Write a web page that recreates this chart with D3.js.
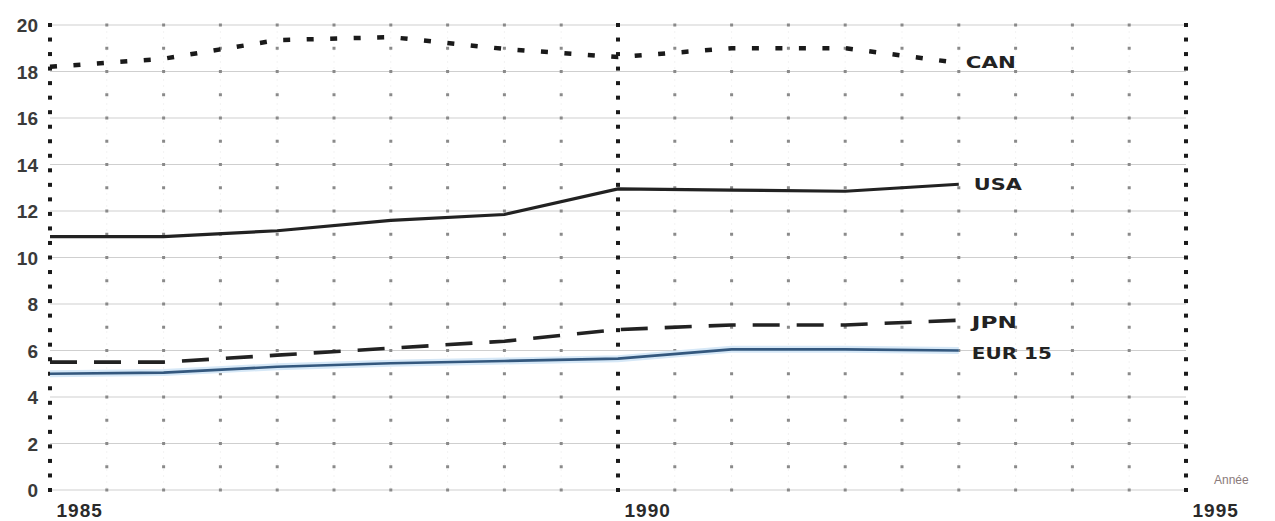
<!DOCTYPE html>
<html><head><meta charset="utf-8">
<script src="https://cdn.jsdelivr.net/npm/d3@7"></script>
<style>
html,body{margin:0;padding:0;background:#fff;}
svg{display:block;}
</style></head>
<body>
<svg id="chart" width="1275" height="521"></svg>
<script>
// ---- data ----
const years = [1985, 1986, 1987, 1988, 1989, 1990, 1991, 1992, 1993];
const canValues = [18.2, 18.55, 19.35, 19.48, 18.97, 18.62, 19.0, 19.0, 18.37];
const usaValues = [10.9, 10.9, 11.15, 11.6, 11.85, 12.95, 12.9, 12.85, 13.15];
const jpnValues = [5.5, 5.5, 5.8, 6.1, 6.4, 6.9, 7.1, 7.1, 7.3];
const eurValues = [5.0, 5.05, 5.3, 5.45, 5.55, 5.65, 6.05, 6.05, 6.0];
const seriesNames = ["CAN", "USA", "JPN", "EUR 15"];
const yTicks = [0, 2, 4, 6, 8, 10, 12, 14, 16, 18, 20];
const xTicks = [1985, 1990, 1995];
const xAxisTitle = "Année";

// ---- scales ----
const svg = d3.select("#chart");
const x = d3.scaleLinear().domain([1985, 1995]).range([50, 1186]);
const y = d3.scaleLinear().domain([0, 20]).range([490, 25]);

// horizontal gridlines every 2
svg.append("g").selectAll("line").data(yTicks).join("line")
  .attr("x1", x(1985)).attr("x2", x(1995))
  .attr("y1", d => y(d)).attr("y2", d => y(d))
  .attr("stroke", "#cfcfcf").attr("stroke-width", 1.2);

// light vertical gridlines every half-year
const halfYears = d3.range(1985.5, 1995, 0.5).filter(v => v % 5 !== 0);
const yInts = d3.range(0, 21, 1);
const lg = svg.append("g");
lg.selectAll("line").data(halfYears).join("line")
  .attr("x1", d => x(d)).attr("x2", d => x(d))
  .attr("y1", y(20)).attr("y2", y(0))
  .attr("stroke", "#f3f3f3").attr("stroke-width", 1)
  .attr("stroke-dasharray", "2,4");
halfYears.forEach(h => {
  lg.append("g").selectAll("rect").data(yInts).join("rect")
    .attr("x", x(h) - 1.5).attr("y", d => y(d) - 1.5)
    .attr("width", 3).attr("height", 3)
    .attr("fill", "#8a8a8a");
});

// heavy dotted vertical lines at 1985, 1990, 1995
const hg = svg.append("g");
xTicks.forEach(t => {
  const n = 32;
  const step = (y(0) - y(20)) / n;
  hg.append("g").selectAll("rect").data(d3.range(n + 1)).join("rect")
    .attr("x", x(t) - 2).attr("y", i => y(20) + i * step - 2)
    .attr("width", 4).attr("height", 4)
    .attr("fill", "#1a1a1a");
});

// y axis
const yAxis = d3.axisLeft(y).tickValues(yTicks).tickSize(0).tickPadding(12).tickFormat(d3.format("d"));
const ya = svg.append("g").attr("transform", `translate(${x(1985)},0)`).call(yAxis);
ya.select(".domain").remove();
ya.selectAll("text").attr("font-family", "Liberation Sans, Arial, sans-serif")
  .attr("font-size", 19).attr("font-weight", "bold").attr("fill", "#3a3a3a")
  .attr("dy", "0.35em");

// x axis
const xAxis = d3.axisBottom(x).tickValues(xTicks).tickSize(0).tickPadding(0).tickFormat(d3.format("d"));
const xa = svg.append("g").attr("transform", `translate(0,${y(0)})`).call(xAxis);
xa.select(".domain").remove();
xa.selectAll("text").attr("font-family", "Liberation Sans, Arial, sans-serif")
  .attr("font-size", 19).attr("font-weight", "bold").attr("fill", "#2a2a2a")
  .attr("text-anchor", "start").attr("letter-spacing", 1)
  .attr("x", 6).attr("y", 0).attr("dy", 27);

svg.append("text").attr("x", x(1995) + 28).attr("y", y(0) - 6)
  .attr("font-family", "Liberation Sans, Arial, sans-serif").attr("font-size", 12)
  .attr("fill", "#8a7a7a").text(xAxisTitle);

// lines
const line = d3.line().x(d => x(d[0])).y(d => y(d[1]));
const zip = vals => years.map((yr, i) => [yr, vals[i]]);

// EUR halo + line
svg.append("path").datum(zip(eurValues)).attr("d", line)
  .attr("fill", "none").attr("stroke", "#d6e8f7").attr("stroke-width", 7);
svg.append("path").datum(zip(eurValues)).attr("d", line)
  .attr("fill", "none").attr("stroke", "#34587e").attr("stroke-width", 2.6);

svg.append("path").datum(zip(jpnValues)).attr("d", line)
  .attr("fill", "none").attr("stroke", "#222").attr("stroke-width", 3.6)
  .attr("stroke-dasharray", "27,17");

svg.append("path").datum(zip(usaValues)).attr("d", line)
  .attr("fill", "none").attr("stroke", "#222").attr("stroke-width", 3.2);

svg.append("path").datum(zip(canValues)).attr("d", line)
  .attr("fill", "none").attr("stroke", "#1a1a1a").attr("stroke-width", 4.5)
  .attr("stroke-dasharray", "7,16.5");

// series labels
const labelData = [
  {name: seriesNames[0], v: canValues[canValues.length - 1], dx: 7, dy: 0, w: 50},
  {name: seriesNames[1], v: usaValues[usaValues.length - 1], dx: 15, dy: 0, w: 48},
  {name: seriesNames[2], v: jpnValues[jpnValues.length - 1], dx: 13, dy: 2, w: 45},
  {name: seriesNames[3], v: eurValues[eurValues.length - 1], dx: 13, dy: 3, w: 80}
];
svg.append("g").selectAll("text").data(labelData).join("text")
  .attr("x", d => x(1993) + d.dx).attr("y", d => y(d.v) + d.dy)
  .attr("dy", "0.36em")
  .attr("font-family", "DejaVu Sans, sans-serif").attr("font-weight", "bold")
  .attr("font-size", 15).attr("fill", "#222")
  .attr("textLength", d => d.w).attr("lengthAdjust", "spacingAndGlyphs")
  .text(d => d.name);
</script>
</body></html>
